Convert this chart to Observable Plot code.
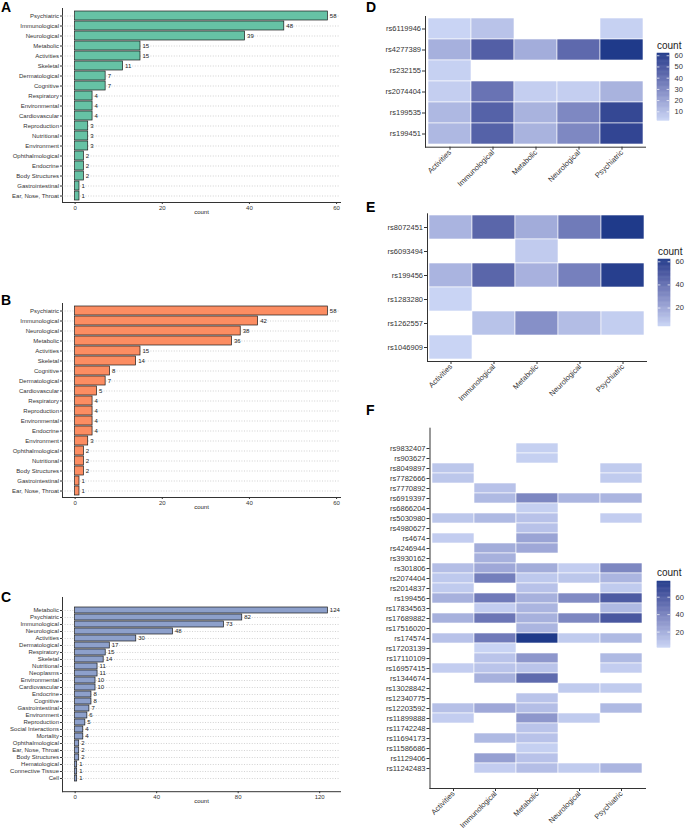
<!DOCTYPE html>
<html><head><meta charset="utf-8">
<script src="https://cdn.jsdelivr.net/npm/d3@7"></script>
<script src="https://cdn.jsdelivr.net/npm/@observablehq/plot@0.6"></script>
<style>
body{margin:0;background:#fff;}
#fig{position:relative;width:685px;height:829px;overflow:hidden;font-family:"Liberation Sans",Arial,sans-serif;}
.panel{position:absolute;}
.tag{position:absolute;font-weight:bold;font-size:14px;line-height:14px;font-family:"Liberation Sans",Arial,sans-serif;color:#000;}
.ltitle{position:absolute;font-size:10px;line-height:10px;font-family:"Liberation Sans",Arial,sans-serif;color:#222;}
</style></head><body><div id="fig"></div>
<script>
// ---------- Data ----------
const catsA = ["Psychiatric","Immunological","Neurological","Metabolic","Activities","Skeletal","Dermatological","Cognitive","Respiratory","Environmental","Cardiovascular","Reproduction","Nutritional","Environment","Ophthalmological","Endocrine","Body Structures","Gastrointestinal","Ear, Nose, Throat"];
const countsA = [58,48,39,15,15,11,7,7,4,4,4,3,3,3,2,2,2,1,1];

const catsB = ["Psychiatric","Immunological","Neurological","Metabolic","Activities","Skeletal","Cognitive","Dermatological","Cardiovascular","Respiratory","Reproduction","Environmental","Endocrine","Environment","Ophthalmological","Nutritional","Body Structures","Gastrointestinal","Ear, Nose, Throat"];
const countsB = [58,42,38,36,15,14,8,7,5,4,4,4,4,3,2,2,2,1,1];

const catsC = ["Metabolic","Psychiatric","Immunological","Neurological","Activities","Dermatological","Respiratory","Skeletal","Nutritional","Neoplasms","Environmental","Cardiovascular","Endocrine","Cognitive","Gastrointestinal","Environment","Reproduction","Social Interactions","Mortality","Ophthalmological","Ear, Nose, Throat","Body Structures","Hematological","Connective Tissue","Cell"];
const countsC = [124,82,73,48,30,17,15,14,11,11,10,10,8,8,7,6,5,4,4,2,2,2,1,1,1];

const ticksA = [0,20,40,60];
const ticksB = [0,20,40,60];
const ticksC = [0,40,80,120];

const heatCats = ["Activities","Immunological","Metabolic","Neurological","Psychiatric"];

const snpsD = ["rs6119946","rs4277389","rs232155","rs2074404","rs199535","rs199451"];
const valuesD = [
  [2, 8, null, null, 3],
  [15, 46, 16, 42, 62],
  [3, null, null, null, null],
  [4, 38, 4, 4, 14],
  [12, 45, 14, 30, 56],
  [12, 45, 14, 30, 57]
];
const legendTicksD = [10,20,30,40,50,60];

const snpsE = ["rs8072451","rs6093494","rs199456","rs1283280","rs1262557","rs1046909"];
const valuesE = [
  [15, 44, 18, 36, 62],
  [null, null, 7, null, null],
  [15, 44, 16, 34, 60],
  [4, null, null, null, null],
  [null, 10, 28, 12, 6],
  [4, null, null, null, null]
];
const legendTicksE = [20,40,60];

const snpsF = ["rs9832407","rs903627","rs8049897","rs7782666","rs7770892","rs6919397","rs6866204","rs5030980","rs4980627","rs4674","rs4246944","rs3930162","rs301806","rs2074404","rs2014837","rs199456","rs17834563","rs17689882","rs17516020","rs174574","rs17203139","rs17110109","rs16957415","rs1344674","rs13028842","rs12340775","rs12203592","rs11899888","rs11742248","rs11694173","rs11586686","rs1129406","rs11242483"];
const valuesF = [
  [null, null, 4, null, null],
  [null, null, 4, null, null],
  [8, null, null, null, 6],
  [8, null, null, null, 6],
  [null, 10, null, null, null],
  [null, 14, 38, 16, 16],
  [null, null, 4, null, null],
  [8, 14, 10, null, 5],
  [null, null, 10, null, null],
  [5, null, 24, null, null],
  [null, 20, 22, null, null],
  [null, 18, null, null, null],
  [12, 22, 20, 5, 38],
  [7, 42, 7, 8, 16],
  [6, null, 10, null, 6],
  [18, 44, 18, 36, 60],
  [null, 5, 16, null, 14],
  [18, 46, 18, 38, 62],
  [null, null, 16, null, null],
  [10, 44, 78, 6, 14],
  [null, 2, null, null, null],
  [null, 9, 30, null, 14],
  [5, 9, 9, null, 5],
  [null, 18, 52, null, null],
  [null, null, null, 6, 6],
  [null, null, 9, null, null],
  [11, 22, 12, null, 14],
  [5, null, 30, 6, null],
  [null, null, 9, null, null],
  [null, 14, 10, null, null],
  [null, null, 4, null, null],
  [null, 26, 10, null, null],
  [null, 5, 12, 6, 16]
];
const legendTicksF = [20,40,60];

const fillA = "#66c2a5", fillB = "#fc8d62", fillC = "#8da0cb";
const lowColor = "#c9d4f4", highColor = "#1f3a8a";

// ---------- Helpers ----------
const fig = document.getElementById("fig");
const FONT = "'Liberation Sans', Arial, sans-serif";

function place(node, left, top) {
  node.classList.add("panel");
  node.style.left = left + "px";
  node.style.top = top + "px";
  fig.appendChild(node);
}
function tag(txt, left, top) {
  const d = document.createElement("div");
  d.className = "tag"; d.textContent = txt;
  d.style.left = left + "px"; d.style.top = top + "px";
  fig.appendChild(d);
}
function ltitle(txt, left, top) {
  const d = document.createElement("div");
  d.className = "ltitle"; d.textContent = txt;
  d.style.left = left + "px"; d.style.top = top + "px";
  fig.appendChild(d);
}

function barPanel(cats, counts, fill, ticks, plotTop, plotBottom) {
  const data = cats.map((c, i) => ({cat: c, count: counts[i]}));
  const max = d3.max(counts);
  const mt = 4, mb = 24;
  const chart = Plot.plot({
    width: 350, height: (plotBottom - plotTop) + mt + mb,
    marginLeft: 62, marginRight: 10, marginTop: mt, marginBottom: mb,
    style: {fontSize: "6px", fontFamily: FONT, color: "#333", background: "transparent", overflow: "visible"},
    x: {domain: [-0.05 * max, 1.05 * max], ticks, tickSize: 2, tickPadding: 1.5, line: true, label: null},
    y: {domain: cats, paddingInner: 0.1, paddingOuter: 0.15, align: 0.5, tickSize: 2, tickPadding: 1.5, line: true, label: null},
    marks: [
      Plot.ruleY(cats, {stroke: "#b3b3b3", strokeDasharray: "1,1.6", strokeWidth: 0.6}),
      Plot.barX(data, {y: "cat", x: "count", fill, stroke: "#1a1a1a", strokeWidth: 0.7}),
      Plot.text(data, {y: "cat", x: "count", text: d => String(d.count), textAnchor: "start", dx: 2, fill: "#222"}),
      Plot.text(["count"], {frameAnchor: "bottom", dy: 11, fill: "#222"})
    ]
  });
  place(chart, 0, plotTop - mt);
}

function heatData(snps, values) {
  const out = [];
  snps.forEach((s, i) => values[i].forEach((v, j) => { if (v != null) out.push({snp: s, cat: heatCats[j], count: v}); }));
  return out;
}

function heatPanel(snps, values, left, top, W, H, ml, mt, mb) {
  const data = heatData(snps, values);
  const ext = d3.extent(data, d => d.count);
  const chart = Plot.plot({
    width: W, height: H, marginLeft: ml, marginRight: 0, marginTop: mt, marginBottom: mb,
    style: {fontSize: "7.5px", fontFamily: FONT, color: "#333", background: "transparent", overflow: "visible"},
    x: {domain: heatCats, paddingInner: 0, paddingOuter: 0.04, tickRotate: -45, tickSize: 3, tickPadding: 1, line: true, label: null},
    y: {domain: snps, paddingInner: 0, paddingOuter: 0.02, tickSize: 3, tickPadding: 1.5, line: true, label: null},
    color: {type: "linear", domain: ext, range: [lowColor, highColor], interpolate: "lab"},
    marks: [
      Plot.cell(data, {x: "cat", y: "snp", fill: "count", stroke: "white", strokeWidth: 0.6, inset: 0})
    ]
  });
  place(chart, left, top);
  return ext;
}

function colorBar(ext, ticks, left, barX1, barX2, barTop, barBottom) {
  const top = barTop - 3, H = (barBottom - barTop) + 6;
  const N = 80;
  const slices = d3.range(N).map(i => {
    const a = ext[0] + (ext[1] - ext[0]) * i / N, b = ext[0] + (ext[1] - ext[0]) * (i + 1) / N;
    return {y1: a, y2: b, v: (a + b) / 2};
  });
  const W = 40;
  const chart = Plot.plot({
    width: W, height: H, marginLeft: barX1 - left, marginRight: W - (barX2 - left), marginTop: 3, marginBottom: 3,
    style: {fontSize: "7.5px", fontFamily: FONT, color: "#333", background: "transparent", overflow: "visible"},
    x: {domain: [0, 1], axis: null},
    y: {domain: ext, ticks, axis: "right", tickSize: 0, tickPadding: 5, label: null},
    color: {type: "linear", domain: ext, range: [lowColor, highColor], interpolate: "lab"},
    marks: [
      Plot.rect(slices, {x1: 0, x2: 1, y1: "y1", y2: "y2", fill: "v", stroke: "v", strokeWidth: 0.5}),
      Plot.ruleY(ticks, {x1: 0, x2: 0.2, stroke: "white", strokeWidth: 0.7}),
      Plot.ruleY(ticks, {x1: 0.8, x2: 1, stroke: "white", strokeWidth: 0.7})
    ]
  });
  place(chart, left, top);
}

// ---------- Panels ----------
barPanel(catsA, countsA, fillA, ticksA, 8, 202);
barPanel(catsB, countsB, fillB, ticksB, 303, 497);
barPanel(catsC, countsC, fillC, ticksC, 597.4, 791.6);

const extD = heatPanel(snpsD, valuesD, 365, 0, 280, 195, 60, 16, 48.3);
const extE = heatPanel(snpsE, valuesE, 365, 195, 281, 205, 62, 18.3, 39);
const extF = heatPanel(snpsF, valuesF, 365, 400, 280, 429, 64.5, 27.7, 41);

ltitle("count", 657, 40.8);
colorBar(extD, legendTicksD, 650, 657, 669, 52.7, 120);
ltitle("count", 658, 246.5);
colorBar(extE, legendTicksE, 650, 658, 670, 259, 326);
ltitle("count", 657, 568.2);
colorBar(extF, legendTicksF, 650, 657, 670, 580.7, 647);

tag("A", 1, 0);
tag("B", 1, 293);
tag("C", 1, 590);
tag("D", 366, 0);
tag("E", 366, 200);
tag("F", 366, 403);
</script>
</body></html>
